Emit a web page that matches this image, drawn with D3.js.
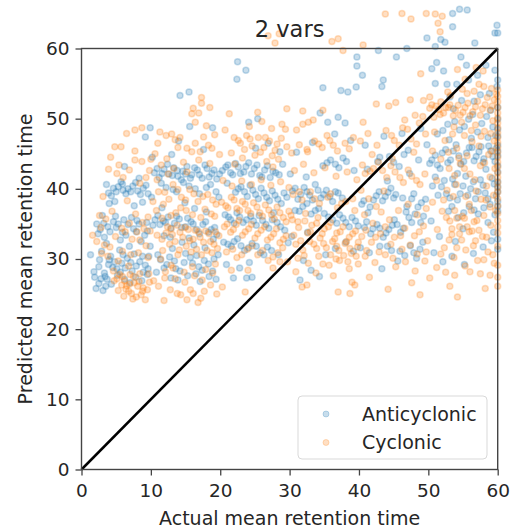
<!DOCTYPE html>
<html>
<head>
<meta charset="utf-8">
<script src="https://cdn.jsdelivr.net/npm/d3@7"></script>
<style>
  body { margin: 0; background: #fff; }
  svg { display: block; font-family: "DejaVu Sans", sans-serif; }
</style>
</head>
<body>
<div id="chart"></div>
<script>
const titleText = "2 vars";
const xLabel = "Actual mean retention time";
const yLabel = "Predicted mean retention time";
const xTicks = [0, 10, 20, 30, 40, 50, 60];
const yTicks = [0, 10, 20, 30, 40, 50, 60];
const seriesNames = ["Anticyclonic", "Cyclonic"];
const seriesColors = ["#1f77b4", "#ff7f0e"];

// [actual, predicted] pairs
const anticyclonic = [
  [1.3,30.6],[2.1,25.8],[2.8,27.2],[3.4,27.5],[2.6,29.9],[3.9,29.2],[4.5,28.8],[5.1,28.6],[5.8,29.4],[6.6,30.1],
  [4.2,30.4],[5.5,31.3],[6.9,31.8],[7.6,30.7],[8.4,29.6],[9.2,29.1],[3.3,33.1],[3.8,34.6],[2.7,34.2],[4.6,35.3],
  [5.3,35.0],[6.1,35.6],[7.2,35.9],[8.0,35.5],[4.9,36.1],[3.6,32.2],[9.1,33.4],[8.6,32.5],[3.9,39.4],[4.6,40.1],
  [5.3,40.3],[6.0,39.8],[6.7,40.0],[7.4,40.4],[8.1,39.7],[8.9,40.1],[5.7,41.0],[9.6,39.3],[10.1,38.8],[6.2,27.1],
  [7.0,26.6],[7.8,27.4],[8.7,26.9],[9.5,27.8],[4.3,26.4],[3.1,25.5],[7.3,28.3],[8.9,28.1],[6.4,33.4],[7.9,33.9],
  [5.6,32.7],[9.7,30.4],[2.2,35.0],[3.0,36.2],[8.3,41.5],[7.6,37.6],[8.8,38.1],[4.0,37.9],[9.9,48.7],[9.2,47.4],
  [6.2,43.2],[9.4,35.2],[9.9,31.8],
  [3.6,40.6],[4.3,39.0],[5.0,39.6],[5.9,40.7],[6.4,39.3],[7.1,39.6],[7.8,40.9],[8.5,39.2],[9.3,40.5],[4.8,38.2],
  [2.4,33.6],[3.2,35.1],[4.1,33.9],[5.0,34.5],[5.9,33.8],[6.7,34.9],[7.5,34.3],[8.3,35.0],[9.5,34.0],[1.8,28.2],
  [2.5,28.9],[3.3,28.0],[4.0,29.9],[4.8,29.6],[5.6,28.1],[6.3,28.7],[7.1,29.5],[7.9,29.0],[8.8,30.4],[9.6,28.6],
  [3.7,27.1],[5.2,27.7],[2.9,31.1],[6.0,30.6],[2.5,26.5],[1.9,27.4],[3.5,26.1],
  [10.5,42.3],[11.2,41.6],[11.9,42.8],[12.6,42.1],[13.3,43.0],[13.9,41.8],[14.6,42.5],[15.2,43.2],[15.9,42.0],[16.7,42.7],
  [17.4,41.5],[18.1,42.9],[18.8,42.2],[19.5,41.4],[12.2,40.2],[13.7,39.6],[15.5,40.4],[17.0,39.3],[18.6,40.6],[11.0,36.2],
  [11.8,35.4],[12.5,36.0],[13.4,35.1],[14.1,35.7],[15.0,34.6],[15.8,35.3],[16.6,34.2],[17.5,34.9],[18.3,33.8],[19.2,34.5],
  [10.3,34.8],[12.8,33.1],[14.5,32.4],[16.2,32.0],[17.8,31.6],[19.0,32.8],[13.1,31.5],[11.4,29.9],[12.3,29.2],[13.6,28.6],
  [14.8,29.5],[15.7,30.2],[16.9,28.9],[17.7,29.8],[18.9,28.3],[19.7,30.6],[10.8,28.1],[12.9,27.3],[15.3,27.6],[17.1,26.8],
  [19.4,27.1],[11.6,37.3],[14.9,38.0],[16.3,37.2],[18.0,36.7],[13.0,44.9],[17.6,45.6],[15.6,48.9],[18.9,48.7],[14.2,53.3],
  [15.5,53.8],[19.8,38.8],[10.2,44.5],[14.0,46.8],
  [10.9,42.9],[11.6,42.2],[12.4,43.5],[13.1,41.9],[13.8,42.6],[14.4,41.3],[15.0,42.1],[15.7,41.5],[16.3,43.0],[17.0,42.0],
  [17.8,43.4],[18.4,41.7],[19.1,42.7],[19.9,42.1],[11.5,40.8],[13.2,39.9],[14.7,40.9],[16.4,40.0],[18.0,40.2],[19.4,39.6],
  [10.6,35.6],[11.3,34.9],[12.1,35.2],[12.9,34.4],[13.7,36.1],[14.4,34.5],[15.3,35.8],[16.1,35.0],[17.0,33.6],[17.9,35.3],
  [18.7,34.2],[19.5,33.5],[11.9,33.3],[15.5,33.0],[11.0,30.6],[11.9,28.7],[12.7,30.3],[13.4,29.7],[14.2,28.3],[15.0,30.8],
  [16.0,29.4],[16.6,30.5],[17.4,28.4],[18.3,29.3],[19.1,30.0],[13.9,27.0],[16.5,27.9],[18.4,27.5],
  [20.3,42.6],[21.1,43.4],[21.8,42.0],[22.6,43.1],[23.4,42.4],[24.1,43.7],[24.9,42.9],[25.7,41.9],[26.4,42.7],[27.2,41.6],
  [28.0,42.3],[22.2,39.5],[23.0,40.3],[23.9,38.9],[24.7,39.8],[25.5,38.6],[26.3,39.4],[27.1,38.3],[27.9,39.1],[28.8,37.9],
  [29.6,38.8],[20.7,36.3],[21.5,35.6],[22.4,36.6],[23.3,35.2],[24.4,36.1],[25.2,34.8],[26.1,35.5],[27.0,34.4],[28.2,35.2],
  [29.3,34.1],[20.5,32.4],[21.6,31.8],[22.5,32.9],[23.5,31.2],[24.6,32.2],[25.8,30.9],[26.8,31.7],[28.4,30.6],[20.9,29.2],
  [22.8,28.7],[24.2,29.5],[21.9,27.3],[23.8,27.3],[24.6,27.4],[25.1,45.8],[26.9,46.5],[28.6,45.3],[24.1,49.5],[25.4,50.0],
  [22.5,58.1],[23.7,56.9],[22.4,55.6],[29.0,43.5],[21.0,40.8],[27.7,36.6],[29.8,32.3],
  [20.8,43.1],[21.5,42.3],[22.2,43.6],[22.9,42.2],[23.7,43.2],[24.5,42.1],[25.3,43.4],[26.0,41.7],[26.8,43.3],[27.6,42.5],
  [28.5,42.0],[22.6,40.0],[23.5,39.6],[24.3,40.5],[25.1,39.2],[25.9,40.1],[26.7,38.8],[27.5,39.7],[28.3,38.5],[29.2,39.4],
  [21.2,36.0],[22.0,35.1],[22.8,36.0],[23.8,35.6],[24.8,35.4],[25.6,36.2],[26.6,34.9],[27.5,35.6],[28.7,34.6],[21.1,32.1],
  [22.0,32.5],[23.0,31.9],[24.1,31.6],[25.2,31.8],[26.3,30.6],[27.4,31.2],
  [30.4,39.7],[31.2,38.5],[32.1,40.2],[32.9,39.1],[33.7,40.6],[34.5,38.7],[35.3,39.8],[36.2,38.2],[37.0,39.4],[30.8,36.9],
  [31.9,37.5],[33.1,36.4],[34.2,37.2],[35.6,36.0],[36.8,35.1],[37.7,35.8],[38.6,34.6],[39.5,35.4],[34.8,43.3],[35.9,44.1],
  [37.1,43.0],[38.2,43.9],[39.3,42.6],[36.5,47.8],[38.8,46.9],[34.4,50.8],[35.5,49.5],[37.0,50.2],[38.0,49.4],[34.8,54.4],
  [37.4,54.0],[38.4,53.8],[39.6,54.5],[39.7,57.5],[39.7,58.8],[32.0,29.8],[33.1,28.4],[34.3,27.5],[31.5,27.0],[35.2,30.6],
  [36.6,31.5],[38.1,32.4],[39.2,31.1],[30.3,33.2],[32.6,33.8],[31.0,45.2],[33.3,46.6],[30.1,42.1],[32.4,41.7],
  [30.8,40.1],[31.6,39.2],[32.5,39.6],[33.3,38.4],[34.1,39.8],[34.9,39.2],[35.8,38.9],[36.6,39.6],[37.6,38.7],[31.4,36.8],
  [32.5,37.9],[33.7,36.9],[35.0,36.5],[36.2,35.6],[37.2,36.3],[38.1,35.2],[39.0,35.9],[39.9,34.7],[35.4,43.7],[36.6,43.5],
  [37.7,44.4],
  [40.4,37.8],[41.3,36.6],[42.1,38.4],[42.9,39.6],[43.8,38.9],[44.6,40.1],[45.3,39.2],[40.8,34.5],[41.7,33.6],[42.6,34.9],
  [43.5,33.1],[44.3,34.2],[45.1,35.6],[46.0,33.8],[46.8,36.7],[47.6,35.2],[48.5,37.4],[49.3,36.1],[46.3,38.7],[47.9,39.3],
  [49.6,38.5],[40.2,31.6],[41.5,30.9],[43.0,31.8],[44.7,31.2],[46.6,30.5],[47.4,31.9],[48.3,30.1],[49.2,32.4],[45.6,29.7],
  [43.3,28.6],[41.2,42.8],[42.7,43.9],[44.4,44.6],[45.8,43.2],[47.1,45.5],[48.6,44.1],[49.8,46.3],[40.9,46.2],[43.6,47.5],
  [46.2,47.9],[48.9,48.6],[42.8,59.7],[46.9,60.0],[45.4,58.8],[40.5,56.2],[43.5,55.5],[43.3,54.6],[49.8,61.5],[44.1,41.1],
  [47.3,42.2],
  [40.7,38.3],[41.6,37.4],[42.5,39.0],[43.4,38.3],[44.2,39.5],[45.0,38.7],[41.1,35.3],[42.0,34.3],[43.0,34.4],[43.9,33.7],
  [44.8,34.8],[45.5,34.9],[46.4,34.4],[47.2,35.9],[48.1,36.4],[48.9,35.2],[46.9,37.5],[47.6,38.6],[49.0,38.0],[44.1,31.8],
  [45.9,31.1],[47.9,30.9],[48.8,31.4],[43.0,44.5],[45.0,43.8],[46.5,44.9],
  [50.2,43.6],[51.0,44.8],[51.7,42.9],[52.5,45.6],[53.2,44.1],[54.0,46.3],[54.7,43.5],[55.5,45.1],[56.2,47.2],[56.9,44.6],
  [57.6,46.0],[58.3,42.8],[59.0,45.4],[59.6,43.9],[60,44.7],[60,46.2],[60,47.5],[60,42.4],[60,41.0],[60,39.6],
  [60,38.2],[60,36.8],[50.6,40.4],[51.4,39.1],[52.3,41.2],[53.1,38.7],[53.8,40.6],[54.6,39.3],[55.4,41.8],[56.1,40.0],
  [56.8,38.6],[57.5,41.3],[58.2,39.4],[58.9,37.8],[59.5,40.7],[52.9,36.8],[54.3,35.9],[55.9,37.5],[57.2,36.4],[58.6,35.2],
  [59.4,33.8],[51.3,47.8],[52.8,49.2],[54.5,48.4],[55.8,49.9],[57.1,48.1],[58.4,50.3],[59.3,48.8],[60,49.9],[60,51.6],
  [53.6,51.4],[56.6,52.5],[58.8,53.6],[51.0,55.0],[52.7,54.9],[54.1,54.9],[59.9,54.6],[60,55.5],[59.6,56.9],[58.3,57.6],
  [55.5,57.6],[54.7,58.8],[51.2,58.0],[50.5,57.1],[52.2,56.8],[51.0,60.3],[51.8,61.3],[52.4,60.9],[56.7,60.8],[53.5,63.1],
  [59.9,63.3],[59.6,62.2],[60,62.2],[53.5,65.0],[54.5,65.6],[55.6,65.5],[50.8,30.9],[52.1,29.6],[53.4,30.4],[55.2,29.2],
  [56.5,30.8],[51.6,33.2],[53.9,32.5],[57.9,31.7],[59.1,32.6],[60,32.8],[60,31.4],[50.4,35.4],[55.0,34.3],[56.3,45.9],
  [54.2,42.2],[57.9,43.8],[53.0,47.0],[58.6,47.3],[53.1,53.1],
  [50.5,44.1],[51.3,43.4],[52.0,45.1],[52.8,43.7],[53.6,45.4],[54.4,44.7],[55.1,43.9],[55.9,45.9],[56.6,44.0],[57.3,45.3],
  [58.0,44.3],[58.7,46.1],[59.3,44.6],[59.8,45.8],[60,45.4],[60,43.3],[60,48.5],[60,40.3],[60,37.5],[51.0,41.7],
  [51.9,40.3],[52.6,39.3],[53.5,41.4],[54.2,38.4],[55.0,40.4],[55.7,39.1],[56.5,41.0],[57.2,39.6],[57.9,40.5],[58.6,38.6],
  [59.2,41.5],[59.8,39.0],[53.4,37.5],[55.1,36.6],[56.6,37.0],[58.0,37.3],[59.6,36.3],[52.1,48.3],[53.8,49.6],[55.2,48.9],
  [56.4,50.6],[57.7,49.3],[59.0,51.2],[59.7,47.6],[54.8,52.6],[57.5,53.4],[55.8,55.5],[57.1,56.2]
];

const cyclonic = [
  [2.2,32.5],[1.6,33.4],[4.8,46.0],[5.7,46.0],[7.7,48.4],[8.7,48.7],[7.7,45.4],[7.7,44.1],[8.7,43.9],[10.0,44.2],
  [3.9,42.8],[5.1,42.2],[6.0,41.6],[4.4,36.8],[3.5,35.7],[5.8,34.4],[6.9,35.1],[7.8,36.4],[8.8,35.2],[9.6,36.0],
  [2.9,30.8],[4.1,31.7],[5.3,29.7],[6.8,29.0],[8.2,30.9],[9.3,31.9],[5.5,27.8],[6.2,26.9],[6.9,26.4],[7.5,27.5],
  [8.1,26.1],[8.8,25.4],[7.2,25.1],[6.4,25.7],[5.8,26.3],[7.9,24.6],[9.2,24.2],[8.4,27.9],[9.8,26.7],[4.6,28.3],
  [3.3,32.0],[9.9,34.0],[8.4,32.7],[6.6,38.3],[8.4,40.8],[9.3,41.6],[9.8,42.6],[3.1,38.9],
  [5.1,27.2],[5.9,27.5],[6.5,26.2],[7.0,27.8],[7.6,26.6],[8.3,26.8],[8.9,25.9],[6.8,25.4],[7.4,24.3],[8.6,24.9],
  [9.5,25.6],[6.1,24.7],[5.3,25.5],[4.7,26.9],[9.7,27.9],[2.8,34.5],[4.9,33.2],[6.3,33.9],[7.3,32.8],[8.0,33.9],
  [9.0,34.3],[3.8,30.4],[5.9,31.1],[7.1,30.6],[9.6,30.2],[4.2,44.5],[5.4,43.4],[6.5,47.9],[6.9,42.7],[2.6,36.2],
  [10.6,45.0],[11.3,48.1],[13.0,47.8],[14.2,47.3],[13.5,47.0],[13.9,45.9],[17.3,53.0],[17.3,52.2],[18.5,51.6],[16.1,51.5],
  [15.9,50.7],[16.9,50.8],[16.4,49.5],[18.0,49.0],[19.2,47.7],[17.6,47.4],[16.4,46.5],[15.2,45.8],[15.9,45.3],[17.1,45.3],
  [18.3,46.2],[18.8,45.8],[19.9,44.9],[11.5,43.4],[12.3,44.3],[14.7,43.8],[10.9,41.3],[12.0,39.5],[13.2,40.6],[14.4,38.8],
  [15.6,39.9],[16.8,38.2],[18.2,39.2],[19.4,37.8],[10.8,36.9],[11.6,35.8],[12.4,34.6],[13.1,33.5],[13.8,34.8],[14.6,33.1],
  [15.4,34.2],[16.1,32.8],[16.9,33.9],[17.6,32.4],[18.4,33.6],[19.1,32.1],[19.8,33.3],[12.7,32.1],[14.1,31.3],[15.8,31.0],
  [17.3,30.6],[18.8,30.9],[11.4,30.0],[12.9,29.1],[13.5,27.2],[14.8,28.1],[16.3,27.6],[17.9,28.5],[19.3,29.3],[10.4,26.9],
  [11.1,26.1],[12.0,27.3],[12.8,25.6],[14.3,24.9],[15.2,24.2],[16.1,25.1],[16.8,23.8],[17.7,25.4],[18.6,26.3],[19.5,25.0],
  [11.8,37.8],[13.6,36.6],[15.1,36.9],[17.2,35.9],[18.7,36.4],[12.5,42.1],
  [10.9,33.4],[11.6,32.8],[12.2,33.7],[12.9,34.3],[13.5,32.5],[14.2,33.8],[14.9,34.5],[15.6,32.6],[16.4,34.1],[17.1,33.1],
  [17.9,34.0],[18.6,32.5],[19.3,33.9],[13.9,30.6],[15.1,31.8],[16.6,31.4],[18.1,31.2],[19.6,31.5],[11.7,31.2],[12.1,28.2],
  [13.2,28.7],[14.9,26.7],[16.0,28.9],[17.4,27.0],[18.9,28.0],[15.7,25.6],[13.8,25.1],[11.9,24.1],[17.2,24.4],[10.3,38.2],
  [11.1,39.6],[12.6,38.5],[13.9,39.9],[15.0,38.4],[16.2,39.3],[17.5,38.9],[18.9,38.4],[12.9,36.2],[14.3,37.3],[16.0,36.3],
  [17.8,37.1],[19.2,36.1],[13.3,42.9],[15.2,42.4],[16.9,44.1],[18.5,43.6],[11.0,46.5],[12.2,47.6],
  [21.3,50.7],[25.4,50.9],[29.6,51.4],[20.7,48.4],[22.0,47.3],[22.9,46.5],[23.8,47.6],[24.6,46.1],[25.5,47.3],[26.3,45.9],
  [27.1,46.8],[27.9,45.5],[28.8,47.2],[29.6,46.0],[21.6,45.1],[23.2,44.4],[25.0,44.8],[26.7,43.9],[28.4,44.2],[24.2,48.9],
  [26.0,49.6],[27.4,48.6],[28.9,49.2],[26.9,61.8],[27.9,60.8],[28.5,62.1],[20.4,41.2],[21.7,40.4],[23.1,41.1],[24.5,40.6],
  [25.9,41.3],[27.3,40.5],[28.7,41.0],[29.9,40.2],[20.2,38.1],[21.1,37.3],[22.0,38.4],[22.8,36.9],[23.6,37.8],[24.4,36.5],
  [25.3,37.4],[26.1,36.1],[27.0,37.0],[27.8,35.7],[28.6,36.6],[29.5,35.3],[20.6,34.6],[21.5,33.8],[22.3,34.9],[23.2,33.4],
  [24.1,34.3],[25.0,33.0],[25.9,34.1],[26.8,32.7],[27.7,33.6],[28.6,32.3],[29.5,33.3],[20.9,31.0],[22.4,30.2],[23.9,31.4],
  [25.4,30.6],[26.9,29.8],[28.3,30.9],[29.7,29.6],[21.6,28.4],[24.0,28.4],[27.6,28.7],[28.6,29.6],[23.6,25.3],[20.3,26.0],
  [22.1,43.5],[27.6,43.1],
  [20.8,37.6],[21.6,38.8],[22.4,37.2],[23.2,38.2],[24.0,36.9],[24.8,38.0],[25.7,36.6],[26.5,37.7],[27.4,36.3],[28.2,37.4],
  [29.1,35.9],[29.9,36.8],[21.0,35.0],[21.9,34.2],[22.7,35.5],[23.6,33.9],[24.5,34.9],[25.4,33.6],[26.4,34.6],[27.3,33.1],
  [28.1,34.3],[29.1,32.8],[21.8,31.4],[23.1,30.6],[24.6,31.9],[26.1,31.2],[27.6,30.3],[29.0,31.6],[22.6,46.9],[24.3,47.1],
  [26.5,47.3],[28.2,46.4],[29.4,48.5],[23.5,45.6],[25.8,45.2],[27.5,44.7],
  [30.3,45.1],[31.4,46.3],[32.5,45.6],[33.6,46.8],[34.7,45.9],[35.8,46.9],[36.9,45.4],[38.0,46.5],[39.2,47.3],[31.0,48.4],
  [32.7,49.5],[31.9,49.2],[34.8,51.2],[31.9,51.1],[33.4,49.8],[36.1,61.0],[37.0,61.4],[37.7,59.7],[40.6,60.5],[30.7,42.6],
  [32.0,43.5],[33.5,42.3],[35.1,43.0],[36.7,41.8],[38.3,42.4],[39.7,41.3],[30.5,39.2],[31.8,38.4],[33.0,39.6],[34.3,37.9],
  [35.5,38.8],[36.9,37.3],[38.1,38.2],[39.4,36.9],[30.2,36.2],[31.2,35.3],[32.3,36.5],[33.2,34.8],[34.1,35.9],[35.0,34.3],
  [35.9,35.2],[36.8,33.7],[37.7,34.6],[38.6,33.1],[39.5,34.0],[30.6,33.4],[31.6,32.6],[32.6,33.7],[33.5,32.1],[34.4,33.0],
  [35.3,31.6],[36.2,32.5],[37.1,31.2],[38.0,32.2],[38.9,30.8],[39.8,31.7],[31.2,30.1],[32.7,29.4],[34.2,30.4],[35.7,29.1],
  [37.2,29.8],[38.6,28.6],[39.9,29.3],[31.8,26.0],[32.5,26.3],[37.0,25.3],[39.0,26.7],[38.7,25.1],[39.4,26.3],[33.8,28.0],
  [36.3,27.6],[30.9,28.2],
  [30.4,35.6],[31.3,34.5],[32.2,35.4],[33.0,33.9],[33.9,35.1],[34.7,33.6],[35.6,34.6],[36.5,32.9],[37.3,33.9],[38.2,32.5],
  [39.1,33.6],[39.9,32.4],[30.9,32.1],[31.9,31.3],[32.9,32.5],[33.9,31.5],[34.9,32.2],[35.9,30.6],[36.8,31.8],[37.8,30.5],
  [38.7,31.5],[39.6,30.4],[32.1,30.5],[34.8,29.3],[36.7,30.0],[38.4,29.6],[31.4,39.6],[33.6,38.6],[35.9,39.3],[37.5,37.9],
  [39.1,38.6],[32.6,45.3],[34.2,46.4],[36.3,46.2],[38.6,45.7],[35.4,47.6],
  [40.5,43.4],[41.6,42.5],[42.8,43.8],[44.0,41.6],[45.2,42.4],[46.4,40.9],[47.6,41.8],[48.8,40.6],[40.3,39.8],[41.4,38.6],
  [42.5,37.5],[40.8,36.3],[42.0,35.1],[43.2,36.7],[44.4,35.6],[45.7,36.9],[47.1,37.8],[48.4,36.3],[49.7,37.2],[40.4,33.2],
  [41.8,32.4],[43.1,33.6],[44.6,32.1],[46.0,33.3],[47.4,32.0],[48.7,33.9],[49.9,32.6],[40.9,30.4],[42.3,29.5],[43.8,30.6],
  [45.3,28.9],[46.7,29.6],[48.1,28.3],[49.5,29.7],[44.2,25.7],[48.8,24.9],[47.6,26.6],[50.2,27.3],[41.5,27.4],[40.2,46.8],
  [41.3,47.9],[42.6,46.2],[43.9,48.3],[45.1,46.9],[46.3,48.7],[47.5,47.1],[48.7,49.4],[49.6,47.8],[40.6,49.5],[42.5,52.1],
  [44.3,51.8],[45.3,52.3],[49.3,52.6],[50.2,53.1],[47.4,52.7],[46.6,49.8],[48.1,50.5],[43.8,64.9],[46.2,65.0],[47.5,64.2],
  [49.7,65.0],[48.9,56.4],[41.9,44.9],[44.8,44.3],[47.9,45.2],[43.6,39.7],
  [40.9,42.2],[42.1,42.9],[43.4,42.6],[44.6,43.3],[45.9,41.6],[47.1,42.7],[48.3,41.2],[49.5,42.1],[41.0,34.1],[42.4,33.1],
  [43.8,34.6],[45.1,33.1],[46.6,34.4],[48.0,33.3],[49.3,34.7],[41.1,31.2],[42.9,31.0],[44.9,30.1],[46.2,31.4],[48.4,30.7],
  [49.7,31.0],[45.8,46.2],[47.0,48.5],[48.3,46.4],[49.2,50.3],[44.7,47.6],
  [50.2,51.5],[51.7,50.6],[50.8,50.2],[51.5,51.3],[52.2,50.8],[52.9,51.6],[53.6,50.4],[54.3,51.9],[55.0,50.9],[55.7,52.2],
  [56.4,51.0],[57.1,52.5],[57.8,51.4],[58.5,53.0],[59.2,51.8],[59.8,53.5],[60,52.4],[60,50.8],[60,49.4],[60,48.0],
  [60,46.6],[60,45.2],[60,43.8],[60,42.3],[60,40.9],[60,39.5],[60,54.1],[53.2,53.3],[54.9,54.2],[56.6,53.9],
  [58.0,54.6],[51.0,64.9],[52.0,64.6],[51.4,63.6],[51.7,62.4],[54.2,57.0],[56.9,57.3],[53.7,48.8],[55.2,47.6],[56.8,49.1],
  [58.1,48.2],[59.3,49.7],[52.4,46.9],[54.1,45.8],[55.6,44.7],[57.3,46.1],[58.7,44.9],[59.5,46.8],[50.6,45.4],[51.8,44.2],
  [53.0,42.9],[54.6,43.6],[56.0,42.1],[57.5,43.3],[58.9,41.7],[59.6,42.9],[51.2,41.2],[52.7,39.8],[54.0,40.6],[55.4,38.9],
  [56.9,39.7],[58.3,38.4],[59.4,39.1],[52.0,36.8],[53.1,35.4],[53.8,36.9],[54.5,34.6],[55.2,35.8],[55.9,33.9],[56.6,35.3],
  [57.3,34.1],[53.4,33.5],[54.8,32.7],[56.2,36.9],[58.0,36.2],[59.0,34.8],[59.7,36.9],[51.3,34.2],[50.6,38.1],[52.3,31.6],
  [53.7,30.2],[55.4,31.3],[57.1,29.8],[58.6,31.0],[59.5,29.4],[60,31.8],[60,33.7],[60,35.5],[60,37.6],[60,29.1],
  [60,27.4],[60,26.1],[53.1,26.1],[53.8,27.7],[58.9,27.7],[51.2,28.8],[56.0,28.2],[54.2,24.6],[58.2,25.8],[50.9,48.1],
  [57.9,56.8],[55.3,55.6],
  [50.5,52.0],[51.1,51.8],[51.8,52.4],[52.5,51.6],[53.1,52.0],[53.9,51.2],[54.6,50.5],[55.3,51.6],[56.0,50.4],[56.8,51.7],
  [57.5,50.5],[58.2,52.0],[58.9,51.2],[59.5,52.7],[60,53.2],[60,51.6],[60,50.1],[60,48.7],[60,47.3],[60,45.9],
  [60,44.5],[60,43.1],[60,41.6],[60,40.2],[60,38.6],[60,36.5],[60,34.6],[52.8,53.8],[55.6,53.6],[57.3,54.9],
  [59.1,54.3],[53.5,47.8],[54.8,49.5],[56.2,48.3],[57.6,47.5],[59.0,47.9],[52.9,45.2],[54.4,44.4],[56.3,46.7],[58.1,43.7],
  [59.2,45.4],[53.8,41.9],[55.2,42.9],[56.7,41.3],[58.4,40.4],[52.2,38.4],[53.6,38.9],[55.9,37.8],[57.6,38.5],[58.9,37.4],
  [52.6,35.9],[53.4,34.3],[54.1,35.8],[54.9,36.1],[55.6,34.6],[56.3,34.0],[57.0,35.5],[57.8,33.2],[53.0,32.7],[54.5,33.6],
  [56.8,32.6],[58.4,33.1],[51.8,30.7],[54.1,31.6],[56.5,31.9],[58.0,29.9],[59.3,30.6],[55.3,29.0],[57.5,27.9],[52.5,28.1]
];

class RetentionScatter {
  constructor(_config) {
    this.config = {
      parentElement: _config.parentElement,
      width: 527,
      height: 529,
      plot: { left: 81.5, right: 497.7, top: 48.5, bottom: 469.5 },
      radius: 3,
      alpha: 0.25
    };
    this.initVis();
  }

  initVis() {
    const vis = this;
    const p = vis.config.plot;

    vis.svg = d3.select(vis.config.parentElement)
      .append("svg")
      .attr("width", vis.config.width)
      .attr("height", vis.config.height);

    vis.xScale = d3.scaleLinear().domain([0, 60]).range([p.left, p.right]);
    vis.yScale = d3.scaleLinear().domain([0, 60]).range([p.bottom, p.top]);

    const series = [anticyclonic, cyclonic];
    series.forEach((pts, i) => {
      vis.svg.append("g")
        .selectAll("circle")
        .data(pts)
        .join("circle")
        .attr("cx", (d) => vis.xScale(d[0]))
        .attr("cy", (d) => vis.yScale(d[1]))
        .attr("r", vis.config.radius)
        .attr("fill", seriesColors[i])
        .attr("fill-opacity", vis.config.alpha)
        .attr("stroke", seriesColors[i])
        .attr("stroke-opacity", vis.config.alpha)
        .attr("stroke-width", 1.5);
    });

    // 1:1 line
    vis.svg.append("line")
      .attr("x1", vis.xScale(0))
      .attr("y1", vis.yScale(0))
      .attr("x2", vis.xScale(60))
      .attr("y2", vis.yScale(60))
      .attr("stroke", "#000")
      .attr("stroke-width", 2.5);

    vis.svg.append("rect")
      .attr("x", p.left)
      .attr("y", p.top)
      .attr("width", p.right - p.left)
      .attr("height", p.bottom - p.top)
      .attr("fill", "none")
      .attr("stroke", "#444")
      .attr("stroke-width", 1.4);

    const xAxis = vis.svg.append("g")
      .attr("transform", `translate(0,${p.bottom})`)
      .call(d3.axisBottom(vis.xScale).tickValues(xTicks).tickSize(6).tickSizeOuter(0).tickPadding(8));
    const yAxis = vis.svg.append("g")
      .attr("transform", `translate(${p.left},0)`)
      .call(d3.axisLeft(vis.yScale).tickValues(yTicks).tickSize(6).tickSizeOuter(0).tickPadding(6));

    [xAxis, yAxis].forEach((g) => {
      g.select(".domain").remove();
      g.selectAll(".tick line").attr("stroke", "#444").attr("stroke-width", 1.3);
      g.selectAll(".tick text")
        .attr("fill", "#262626")
        .attr("font-size", 18.5)
        .attr("font-family", "DejaVu Sans, sans-serif");
    });

    vis.svg.append("text")
      .attr("x", (p.left + p.right) / 2)
      .attr("y", 37)
      .attr("text-anchor", "middle")
      .attr("font-size", 22.5)
      .attr("fill", "#262626")
      .text(titleText);

    vis.svg.append("text")
      .attr("x", (p.left + p.right) / 2)
      .attr("y", 525)
      .attr("text-anchor", "middle")
      .attr("font-size", 19)
      .attr("fill", "#262626")
      .text(xLabel);

    vis.svg.append("text")
      .attr("transform", `translate(32,${(p.top + p.bottom) / 2}) rotate(-90)`)
      .attr("text-anchor", "middle")
      .attr("font-size", 19)
      .attr("fill", "#262626")
      .text(yLabel);

    // legend
    const legend = vis.svg.append("g");
    legend.append("rect")
      .attr("x", 298)
      .attr("y", 396)
      .attr("width", 189)
      .attr("height", 63)
      .attr("rx", 4)
      .attr("fill", "#fff")
      .attr("fill-opacity", 0.8)
      .attr("stroke", "#d9d9d9")
      .attr("stroke-width", 1);

    seriesNames.forEach((name, i) => {
      const cy = 414 + i * 28.5;
      legend.append("circle")
        .attr("cx", 326)
        .attr("cy", cy)
        .attr("r", vis.config.radius)
        .attr("fill", seriesColors[i])
        .attr("fill-opacity", vis.config.alpha)
        .attr("stroke", seriesColors[i])
        .attr("stroke-opacity", vis.config.alpha);
      legend.append("text")
        .attr("x", 362)
        .attr("y", cy)
        .attr("dy", "0.35em")
        .attr("font-size", 19)
        .attr("fill", "#262626")
        .text(name);
    });
  }
}

new RetentionScatter({ parentElement: "#chart" });
</script>
</body>
</html>
